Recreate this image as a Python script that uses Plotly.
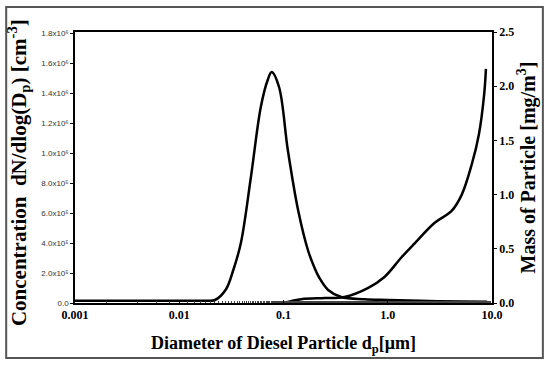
import plotly.graph_objects as go

# Number concentration curve (left axis)
conc_d = [0.001, 0.005, 0.01, 0.018, 0.022, 0.028, 0.033, 0.039, 0.0487, 0.0607, 0.0708, 0.077,
          0.0906, 0.110, 0.138, 0.172, 0.197, 0.22, 0.268, 0.358, 0.6, 1.0, 3.0, 9.0]
conc_n = [0.015e6, 0.015e6, 0.015e6, 0.015e6, 0.02e6, 0.09e6, 0.22e6, 0.40e6, 0.84e6, 1.31e6, 1.49e6, 1.54e6,
          1.44e6, 1.02e6, 0.62e6, 0.35e6, 0.24e6, 0.17e6, 0.087e6, 0.04e6, 0.025e6, 0.02e6, 0.012e6, 0.008e6]

# Mass curve (right axis)
mass_d = [0.1, 0.148, 0.25, 0.383, 0.65, 0.93, 1.35, 1.81, 2.82, 4.1, 5.13, 6.4, 7.5, 8.4, 8.75]
mass_m = [0.0, 0.035, 0.045, 0.055, 0.14, 0.24, 0.42, 0.55, 0.74, 0.85, 1.0, 1.28, 1.56, 1.92, 2.16]

x_tickvals = [0.001, 0.01, 0.1, 1, 10]
x_ticktext = ["<b>0.001</b>", "<b>0.01</b>", "<b>0.1</b>", "<b>1.0</b>", "<b>10.0</b>"]
y1_tickvals = [0, 0.2e6, 0.4e6, 0.6e6, 0.8e6, 1.0e6, 1.2e6, 1.4e6, 1.6e6, 1.8e6]
y1_ticktext = ["0.0", "2.0x10⁵", "4.0x10⁵", "6.0x10⁵", "8.0x10⁵",
               "1.0x10⁶", "1.2x10⁶", "1.4x10⁶", "1.6x10⁶", "1.8x10⁶"]
y2_tickvals = [0, 0.5, 1.0, 1.5, 2.0, 2.5]
y2_ticktext = ["<b>0.0</b>", "<b>0.5</b>", "<b>1.0</b>", "<b>1.5</b>", "<b>2.0</b>", "<b>2.5</b>"]

serif = "Liberation Serif"

fig = go.Figure()
fig.add_trace(go.Scatter(x=conc_d, y=conc_n, mode="lines", line=dict(color="black", width=2.5, shape="spline"),
                         yaxis="y", showlegend=False))
fig.add_trace(go.Scatter(x=mass_d, y=mass_m, mode="lines", line=dict(color="black", width=2.5, shape="spline"),
                         yaxis="y2", showlegend=False))

fig.update_layout(
    width=550, height=368,
    margin=dict(l=75, r=58, t=32, b=65),
    paper_bgcolor="white", plot_bgcolor="white",
    xaxis=dict(type="log", range=[-3, 1], tickvals=x_tickvals, ticktext=x_ticktext, automargin=False,
               showline=True, linecolor="black", linewidth=1.5, mirror=True,
               ticks="inside", ticklen=3, tickcolor="black", showgrid=False, zeroline=False,
               minor=dict(ticks="inside", ticklen=2, tickcolor="#444"),
               tickfont=dict(family=serif, size=12, color="black"),
               title=dict(text="<b>Diameter of Diesel Particle d<sub>p</sub>[μm]</b>",
                          font=dict(family=serif, size=18, color="black"), standoff=15)),
    yaxis=dict(range=[0, 1.80e6 * 271 / 270], tickvals=y1_tickvals, ticktext=y1_ticktext, automargin=False,
               showline=True, linecolor="black", linewidth=1.5,
               ticks="outside", ticklen=3, tickcolor="black", showgrid=False, zeroline=False,
               tickfont=dict(family="Liberation Sans", size=8, color="#333")),
    yaxis2=dict(range=[0, 2.5], tickvals=y2_tickvals, ticktext=y2_ticktext, overlaying="y", side="right",
                automargin=False,
                showline=True, linecolor="black", linewidth=1.5,
                ticks="outside", ticklen=3, tickcolor="black", showgrid=False, zeroline=False,
                tickfont=dict(family=serif, size=12, color="black"),
                title=dict(text="<b>Mass of Particle [mg/m<sup>3</sup>]</b>",
                           font=dict(family=serif, size=20, color="black"), standoff=4)),
    annotations=[dict(text="<b>Concentration  dN/dlog(D<sub>p</sub>) [cm<sup>-3</sup>]</b>",
                      xref="paper", yref="paper", x=-0.134, y=0.48, textangle=-90,
                      showarrow=False, xanchor="center", yanchor="middle",
                      font=dict(family=serif, size=21, color="black"))],
    shapes=[dict(type="rect", xref="paper", yref="paper", x0=-0.165, x1=1.122, y0=-0.203, y1=1.092,
                 line=dict(color="#555", width=2), fillcolor="rgba(0,0,0,0)", layer="below")],
)

fig.write_html("out.html", post_script="document.body.style.margin='0';",
               config={"displayModeBar": False})
